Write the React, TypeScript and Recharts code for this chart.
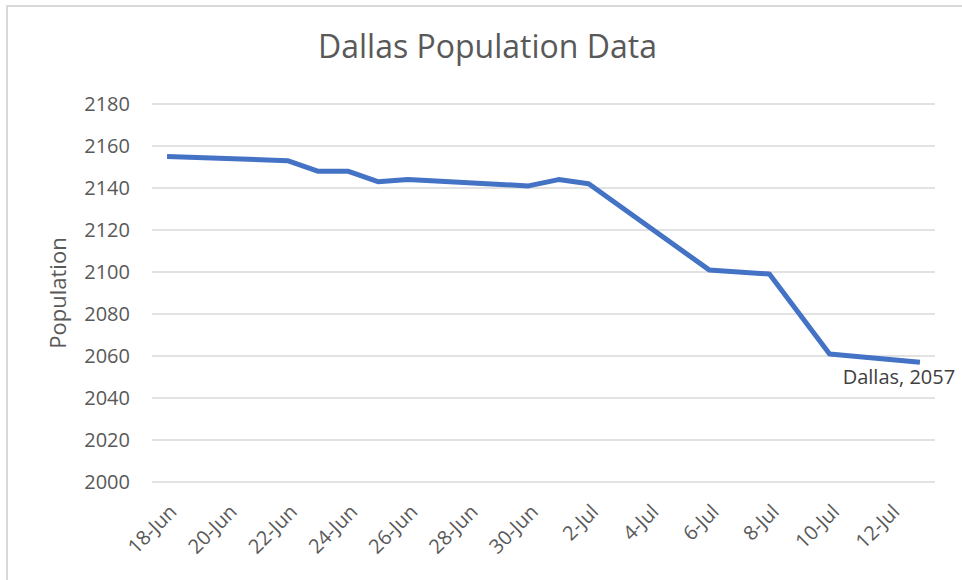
import { LineChart, Line, XAxis, YAxis, CartesianGrid, LabelList } from "recharts";

const SERIES_NAME = "Dallas";

const DATES = [
  "18-Jun", "22-Jun", "23-Jun", "24-Jun", "25-Jun", "26-Jun", "30-Jun",
  "1-Jul", "2-Jul", "6-Jul", "8-Jul", "10-Jul", "13-Jul",
];

const POPULATION = [
  2155, 2153, 2148, 2148, 2143, 2144, 2141,
  2144, 2142, 2101, 2099, 2061, 2057,
];

const X_TICK_LABELS = [
  "18-Jun", "20-Jun", "22-Jun", "24-Jun", "26-Jun", "28-Jun", "30-Jun",
  "2-Jul", "4-Jul", "6-Jul", "8-Jul", "10-Jul", "12-Jul",
];

const Y_TICKS = [2000, 2020, 2040, 2060, 2080, 2100, 2120, 2140, 2160, 2180];

const FONT = "'Open Sans', 'Noto Sans', sans-serif";
const TEXT = "#595959";
const MONTH_START: Record<string, number> = { Jun: 0, Jul: 30 };

// day offset from 18-Jun
function dayOf(label: string) {
  const [d, m] = label.split("-");
  return MONTH_START[m] + Number(d) - 18;
}

const data = DATES.map((d, i) => ({ day: dayOf(d), value: POPULATION[i] }));
const ticks = X_TICK_LABELS.map(dayOf);
const lastDay = dayOf(DATES[DATES.length - 1]);

const XTick = (props: any) => {
  const { x, y, payload } = props;
  const label = X_TICK_LABELS[ticks.indexOf(payload.value)];
  const ax = x + 11;
  const ay = y + 31;
  return (
    <text
      x={ax}
      y={ay}
      transform={`rotate(-45, ${ax}, ${ay})`}
      textAnchor="end"
      fill={TEXT}
      fontSize={20}
      fontFamily={FONT}
    >
      {label}
    </text>
  );
};

const LastLabel = (props: any) => {
  const { x, y, index, value } = props;
  if (index !== data.length - 1) return null;
  return (
    <text
      x={x - 21}
      y={y + 22}
      textAnchor="middle"
      fill="#404040"
      fontSize={20}
      fontFamily={FONT}
    >
      {`${SERIES_NAME}, ${value}`}
    </text>
  );
};

export default function App() {
  return (
    <div
      style={{
        position: "fixed",
        left: 0,
        top: 0,
        width: 962,
        height: 580,
        overflow: "hidden",
        background: "#fff",
      }}
    >
      <div
        style={{
          position: "absolute",
          left: 6,
          top: 5,
          width: 980,
          height: 600,
          borderTop: "2px solid #d9d9d9",
          borderLeft: "2px solid #d9d9d9",
        }}
      />
      <div
        style={{
          position: "absolute",
          left: 0,
          top: 26,
          width: 975,
          textAlign: "center",
          fontFamily: FONT,
          fontSize: 32,
          color: TEXT,
          lineHeight: "40px",
        }}
      >
        Dallas Population Data
      </div>
      <div style={{ position: "absolute", left: 0, top: 0 }}>
        <LineChart
          width={962}
          height={580}
          data={data}
          margin={{ top: 104, right: 27, bottom: 0, left: 0 }}
        >
          <CartesianGrid vertical={false} stroke="#d9d9d9" strokeWidth={1.5} />
          <XAxis
            dataKey="day"
            type="number"
            domain={[-0.5, lastDay + 0.5]}
            ticks={ticks}
            height={98}
            axisLine={false}
            tickLine={false}
            tickSize={0}
            tickMargin={0}
            interval={0}
            tick={<XTick />}
          />
          <YAxis
            domain={[2000, 2180]}
            ticks={Y_TICKS}
            width={152}
            axisLine={false}
            tickLine={false}
            tickSize={0}
            tickMargin={22}
            tick={{ fill: TEXT, fontSize: 20, fontFamily: FONT }}
            label={{
              value: "Population",
              angle: -90,
              position: "insideLeft",
              offset: 58,
              style: { textAnchor: "middle", fill: TEXT, fontSize: 22, fontFamily: FONT },
            }}
          />
          <Line
            dataKey="value"
            stroke="#4472C4"
            strokeWidth={5}
            dot={false}
            strokeLinejoin="round"
            isAnimationActive={false}
          >
            <LabelList dataKey="value" content={<LastLabel />} />
          </Line>
        </LineChart>
      </div>
    </div>
  );
}
